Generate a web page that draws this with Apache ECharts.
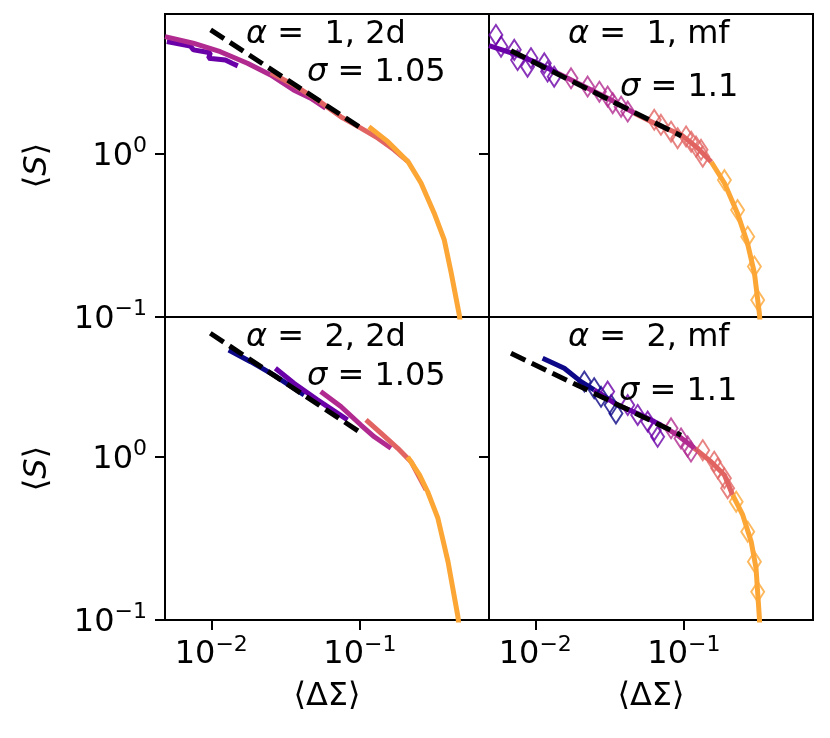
<!DOCTYPE html>
<html>
<head>
<meta charset="utf-8">
<script src="https://cdn.jsdelivr.net/npm/echarts@6/dist/echarts.min.js"></script>
<style>html,body{margin:0;padding:0;background:#fff}#c{width:830px;height:738px}</style>
</head>
<body>
<div id="c"></div>
<script>
// ---- tick values ----
const xTicks = [0.01, 0.1];
const yTicks = [0.1, 1];
const xRange = [0.00488, 0.74];
const yRange = [0.1, 7.22];

// ---- colours (plasma) ----
const cNavy = '#0d0887', cPurple = '#6a00a8', cMagenta = '#b12a90', cCoral = '#e16462', cOrange = '#fca636';

// ---- panel: alpha = 1, 2d ----
const a1d2_purple = [[0.00502,4.89],[0.00721,4.60],[0.00759,4.35],[0.00985,4.18],[0.0096,3.87],[0.01244,3.77],[0.0138,3.60],[0.01507,3.47]];
const a1d2_magenta = [[0.00488,5.25],[0.00755,4.78],[0.0115,4.24],[0.0175,3.60],[0.0251,3.05],[0.0358,2.47],[0.0467,2.20],[0.0589,1.91]];
const a1d2_coral = [[0.0251,3.15],[0.0358,2.65],[0.0520,2.14],[0.0745,1.69],[0.1016,1.44],[0.1324,1.25],[0.170,1.06],[0.211,0.897]];
const a1d2_orange = [[0.115,1.47],[0.1545,1.19],[0.211,0.897],[0.258,0.664],[0.316,0.435],[0.370,0.297],[0.412,0.186],[0.467,0.103],[0.48,0.083]];
const a1d2_fit = [[0.0099,5.77],[0.1016,1.445]];

// ---- panel: alpha = 1, mf ----
const a1mf_purple = [[0.00488,4.62],[0.00757,4.05],[0.0103,3.62],[0.01406,3.14]];
const a1mf_magenta = [[0.01406,3.14],[0.0214,2.59],[0.0325,2.14],[0.0464,1.78]];
const a1mf_coral = [[0.0464,1.78],[0.0664,1.51],[0.0962,1.31],[0.1233,1.09],[0.153,0.893]];
const a1mf_orange = [[0.153,0.893],[0.1875,0.664],[0.229,0.435],[0.268,0.284],[0.2985,0.186],[0.322,0.106],[0.327,0.089]];
const a1mf_purplePts = [[0.00543,5.37],[0.00588,4.55],[0.00722,4.35],[0.0076,3.77],[0.00935,3.87],[0.00887,3.43],[0.0115,3.60],[0.0121,3.20],[0.0134,2.98]];
const a1mf_magentaPts = [[0.0174,2.91],[0.0225,2.59],[0.0270,2.41],[0.0307,2.25],[0.0332,2.05],[0.0378,1.95],[0.0419,1.82]];
const a1mf_coralPts = [[0.0632,1.62],[0.0701,1.51],[0.082,1.37],[0.0908,1.25],[0.1035,1.28],[0.112,1.19],[0.1208,1.11],[0.1305,1.06],[0.134,0.962]];
const a1mf_orangePts = [[0.1875,0.692],[0.230,0.453],[0.269,0.311],[0.2985,0.204],[0.314,0.127]];
const a1mf_fit = [[0.00686,4.30],[0.0962,1.29]];

// ---- panel: alpha = 2, 2d ----
const a2d2_navy = [[0.0131,4.53],[0.0184,3.84],[0.0264,3.18],[0.0421,2.40]];
const a2d2_purple = [[0.0270,3.50],[0.0360,2.83],[0.0518,2.24],[0.0826,1.69]];
const a2d2_magenta = [[0.0545,2.52],[0.0745,2.04],[0.1016,1.57],[0.125,1.33],[0.162,1.13]];
const a2d2_coral = [[0.110,1.69],[0.1386,1.40],[0.180,1.13],[0.221,0.936],[0.279,0.628]];
const a2d2_orange = [[0.210,1.00],[0.252,0.776],[0.286,0.612],[0.335,0.421],[0.392,0.228],[0.457,0.105],[0.467,0.087]];
const a2d2_fit = [[0.00985,5.74],[0.0989,1.43]];

// ---- panel: alpha = 2, mf ----
const a2mf_navy = [[0.0112,4.03],[0.01567,3.50],[0.0203,2.90],[0.0249,2.58]];
const a2mf_purple = [[0.0249,2.58],[0.0358,2.08],[0.0515,1.81],[0.0701,1.57]];
const a2mf_magenta = [[0.0701,1.57],[0.0908,1.36],[0.1178,1.13]];
const a2mf_coral = [[0.1178,1.13],[0.1524,0.936],[0.1875,0.776],[0.213,0.585]];
const a2mf_orange = [[0.213,0.585],[0.249,0.441],[0.284,0.302],[0.306,0.208],[0.322,0.105],[0.325,0.087]];
const a2mf_navyPts = [[0.0214,2.90],[0.0249,2.64],[0.0277,2.34],[0.0324,2.08],[0.0349,1.85]];
const a2mf_purplePts = [[0.0307,2.52],[0.0419,2.08],[0.0489,1.81],[0.0571,1.65],[0.0632,1.46],[0.0666,1.33]];
const a2mf_magentaPts = [[0.082,1.50],[0.0957,1.30],[0.106,1.16],[0.1117,1.08]];
const a2mf_coralPts = [[0.134,1.10],[0.160,0.936],[0.169,0.852],[0.1875,0.740],[0.197,0.643]];
const a2mf_orangePts = [[0.225,0.532],[0.269,0.348],[0.2985,0.228],[0.314,0.149]];
const a2mf_fit = [[0.00686,4.33],[0.0957,1.36]];

// ---- text ----
const panelTitles = ['α', ' =  1, 2d', ' =  1, mf', ' =  2, 2d', ' =  2, mf'];
const sigmaTexts = ['1.05', '1.1'];

const FONT = 'DejaVu Sans';
const FS = 32;
const tickRich = {
  b: {fontFamily: FONT, fontSize: FS, lineHeight: 37, verticalAlign: 'bottom', color: '#000'},
  s: {fontFamily: FONT, fontSize: 22, lineHeight: 22, verticalAlign: 'top', color: '#000'}
};
function powLabel(v) {
  const e = Math.round(Math.log10(v));
  return '{b|10}{s|' + (e < 0 ? '\u2212' + (-e) : String(e)) + '}';
}

const grids = [
  {left: 165, top: 14, width: 324, height: 303},
  {left: 489, top: 14, width: 324, height: 303},
  {left: 165, top: 317, width: 324, height: 303},
  {left: 489, top: 317, width: 324, height: 303}
].map(g => Object.assign(g, {show: true, borderColor: '#000', borderWidth: 2, containLabel: false}));

function xAx(i, labels) {
  return {
    type: 'log', logBase: 10, gridIndex: i, min: xRange[0], max: xRange[1],
    axisLine: {show: true, onZero: false, lineStyle: {color: '#000', width: 2}},
    axisTick: {show: labels, customValues: xTicks, length: 10, lineStyle: {color: '#000', width: 2}},
    axisLabel: {show: labels, customValues: xTicks, margin: 14, formatter: powLabel, rich: tickRich},
    splitLine: {show: false}, minorTick: {show: false}
  };
}
function yAx(i, labels) {
  return {
    type: 'log', logBase: 10, gridIndex: i, min: yRange[0], max: yRange[1],
    axisLine: {show: true, onZero: false, lineStyle: {color: '#000', width: 2}},
    axisTick: {show: true, customValues: yTicks, length: 10, lineStyle: {color: '#000', width: 2}},
    axisLabel: {show: labels, customValues: yTicks, margin: 18, formatter: powLabel, rich: tickRich},
    splitLine: {show: false}, minorTick: {show: false}
  };
}

function line(i, data, color) {
  return {type: 'line', xAxisIndex: i, yAxisIndex: i, data: data, showSymbol: false, symbol: 'none',
    clip: true, lineStyle: {color: color, width: 5}, itemStyle: {color: color}, z: 2, silent: true};
}
function pts(i, data, color) {
  return {type: 'scatter', xAxisIndex: i, yAxisIndex: i, data: data, symbol: 'diamond', symbolSize: [13, 20],
    clip: true, itemStyle: {color: 'rgba(0,0,0,0)', borderColor: color, borderWidth: 2}, z: 3, silent: true};
}
function fit(i, data) {
  return {type: 'line', xAxisIndex: i, yAxisIndex: i, data: data, showSymbol: false, symbol: 'none',
    clip: true, lineStyle: {color: '#000', width: 5, type: [16, 7], cap: 'butt'}, z: 4, silent: true};
}

const series = [
  line(0, a1d2_purple, cPurple), line(0, a1d2_magenta, cMagenta), line(0, a1d2_coral, cCoral), line(0, a1d2_orange, cOrange), fit(0, a1d2_fit),
  line(1, a1mf_purple, cPurple), line(1, a1mf_magenta, cMagenta), line(1, a1mf_coral, cCoral), line(1, a1mf_orange, cOrange),
  pts(1, a1mf_purplePts, cPurple), pts(1, a1mf_magentaPts, cMagenta), pts(1, a1mf_coralPts, cCoral), pts(1, a1mf_orangePts, cOrange), fit(1, a1mf_fit),
  line(2, a2d2_navy, cNavy), line(2, a2d2_purple, cPurple), line(2, a2d2_magenta, cMagenta), line(2, a2d2_coral, cCoral), line(2, a2d2_orange, cOrange), fit(2, a2d2_fit),
  line(3, a2mf_navy, cNavy), line(3, a2mf_purple, cPurple), line(3, a2mf_magenta, cMagenta), line(3, a2mf_coral, cCoral), line(3, a2mf_orange, cOrange),
  pts(3, a2mf_navyPts, cNavy), pts(3, a2mf_purplePts, cPurple), pts(3, a2mf_magentaPts, cMagenta), pts(3, a2mf_coralPts, cCoral), pts(3, a2mf_orangePts, cOrange), fit(3, a2mf_fit)
];

const txtRich = {
  i: {fontFamily: FONT, fontSize: FS, fontStyle: 'italic', color: '#000'},
  r: {fontFamily: FONT, fontSize: FS, color: '#000'}
};
function txt(x, y, text, align, rot) {
  return {type: 'text', x: x, y: y, rotation: rot || 0, z: 100, silent: true,
    style: {text: text, rich: txtRich, align: align || 'left', verticalAlign: 'middle', fill: '#000'}};
}
const graphics = [
  txt(246, 35, '{i|' + panelTitles[0] + '}{r|' + panelTitles[1] + '}'),
  txt(568, 35, '{i|' + panelTitles[0] + '}{r|' + panelTitles[2] + '}'),
  txt(246, 338, '{i|' + panelTitles[0] + '}{r|' + panelTitles[3] + '}'),
  txt(568, 338, '{i|' + panelTitles[0] + '}{r|' + panelTitles[4] + '}'),
  txt(307, 73, '{i|σ}{r| = ' + sigmaTexts[0] + '}'),
  txt(620, 88, '{i|σ}{r| = ' + sigmaTexts[1] + '}'),
  txt(307, 377, '{i|σ}{r| = ' + sigmaTexts[0] + '}'),
  txt(619, 392, '{i|σ}{r| = ' + sigmaTexts[1] + '}'),
  txt(38, 165.5, '{r|\u27e8}{i|S}{r|\u27e9}', 'center', Math.PI / 2),
  txt(38, 468.5, '{r|\u27e8}{i|S}{r|\u27e9}', 'center', Math.PI / 2),
  txt(327, 697, '{r|\u27e8ΔΣ\u27e9}', 'center'),
  txt(651, 697, '{r|\u27e8ΔΣ\u27e9}', 'center')
];

const chart = echarts.init(document.getElementById('c'), null, {renderer: 'canvas'});
chart.setOption({
  animation: false,
  backgroundColor: '#fff',
  grid: grids,
  xAxis: [xAx(0, false), xAx(1, false), xAx(2, true), xAx(3, true)],
  yAxis: [yAx(0, true), yAx(1, false), yAx(2, true), yAx(3, false)],
  series: series,
  graphic: graphics
});
</script>
</body>
</html>
